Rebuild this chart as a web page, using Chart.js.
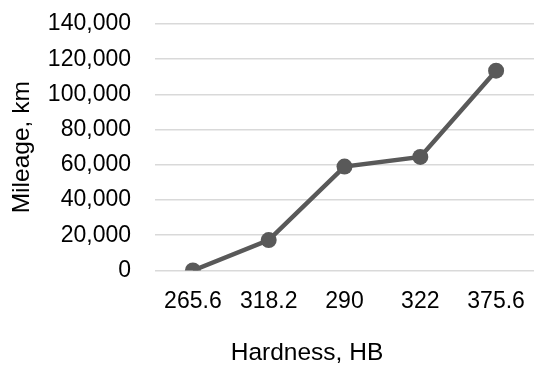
<!DOCTYPE html>
<html lang="en">
<head>
  <meta charset="UTF-8">
  <title>Mileage vs Hardness</title>
  <script src="https://cdn.jsdelivr.net/npm/chart.js"></script>
  <style>
    html, body {
      margin: 0;
      padding: 0;
      background: #ffffff;
    }
    .chart-box {
      width: 534px;
      height: 365px;
    }
  </style>
</head>
<body>
  <div class="chart-box">
    <canvas id="mileage-chart"></canvas>
  </div>
  <script>
    // values
    const hardness = ["265.6", "318.2", "290", "322", "375.6"];
    const mileage = [0, 17300, 59000, 64500, 113500];
    const yTicks = [0, 20000, 40000, 60000, 80000, 100000, 120000, 140000];
    const xTitle = "Hardness, HB";
    const yTitle = "Mileage, km";

    const grey = "#595959";
    const font = "'Liberation Sans', Arial, sans-serif";
    // the plot runs a little past the right edge in the original
    const rightOverhang = -3.5;

    // the x axis title sits left of the plot centre in the original, so draw it by hand
    const xTitlePlugin = {
      id: "xTitle",
      afterDraw(chart) {
        const ctx = chart.ctx;
        ctx.save();
        ctx.fillStyle = "#000000";
        ctx.font = "24.5px " + font;
        ctx.textAlign = "center";
        ctx.textBaseline = "alphabetic";
        ctx.fillText(xTitle, chart.chartArea.left + 152, chart.height - 5);
        ctx.restore();
      }
    };

    new Chart(document.getElementById("mileage-chart"), {
      type: "line",
      data: {
        labels: hardness,
        datasets: [{
          label: yTitle,
          data: mileage,
          borderColor: grey,
          backgroundColor: grey,
          borderWidth: 4.5,
          pointRadius: 8,
          pointHoverRadius: 8,
          pointBorderWidth: 0,
          pointBackgroundColor: grey,
          tension: 0
        }]
      },
      options: {
        responsive: true,
        maintainAspectRatio: false,
        animation: false,
        layout: {
          autoPadding: false,
          padding: { top: 24, right: rightOverhang, bottom: 0, left: 0 }
        },
        plugins: {
          legend: { display: false },
          tooltip: { enabled: false }
        },
        scales: {
          x: {
            offset: true,
            grid: { display: false, drawTicks: true, tickLength: 17 },
            border: { display: false },
            ticks: {
              color: "#000000",
              padding: 0,
              maxRotation: 0,
              font: { family: font, size: 23 }
            },
            afterFit: (scale) => {
              scale.height = 94.5;
              scale.paddingLeft = 0;
              scale.paddingRight = rightOverhang;
            }
          },
          y: {
            min: yTicks[0],
            max: yTicks[yTicks.length - 1],
            grid: {
              color: "#d9d9d9",
              lineWidth: 1.6,
              drawTicks: true,
              tickLength: 24,
              tickColor: "rgba(0,0,0,0)"
            },
            border: { display: false },
            afterBuildTicks: (scale) => {
              scale.ticks = yTicks.map(v => ({ value: v }));
            },
            ticks: {
              color: "#000000",
              padding: 0,
              font: { family: font, size: 23 },
              callback: (v) => v.toLocaleString("en-US")
            },
            title: {
              display: true,
              text: yTitle,
              color: "#000000",
              padding: { top: 7.5, bottom: 0 },
              font: { family: font, size: 24.5 }
            },
            afterFit: (scale) => {
              scale.width = 155;
              scale.paddingTop = 0;
              scale.paddingBottom = 0;
            }
          }
        }
      },
      plugins: [xTitlePlugin]
    });
  </script>
</body>
</html>
